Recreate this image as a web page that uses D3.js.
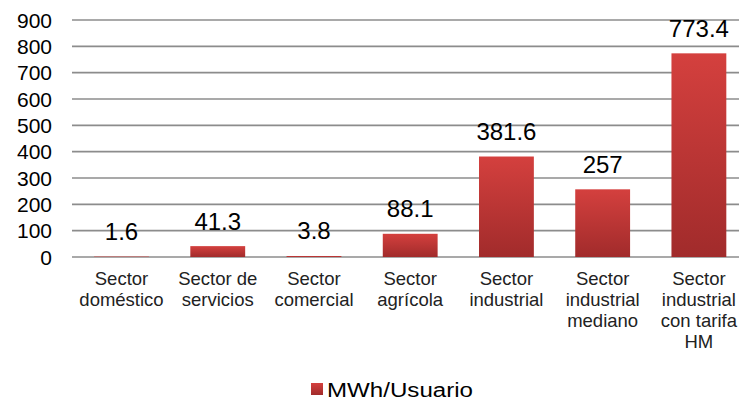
<!DOCTYPE html>
<html>
	<head>
		<meta charset="utf-8">
		<style>
			body, html { margin: 0; padding: 0; background: #fff; }
			svg { display: block; font-family: "Liberation Sans", Arial, sans-serif; }
		</style>
	</head>
	<body>
		<svg id="svg" width="739" height="404"></svg>
		<script src="https://d3js.org/d3.v7.min.js"></script>
		<script>
			// Data
			const categories = [
				['Sector', 'doméstico'],
				['Sector de', 'servicios'],
				['Sector', 'comercial'],
				['Sector', 'agrícola'],
				['Sector', 'industrial'],
				['Sector', 'industrial', 'mediano'],
				['Sector', 'industrial', 'con tarifa', 'HM']
			]
			const values = [1.6, 41.3, 3.8, 88.1, 381.6, 257, 773.4]
			const labels = ['1.6', '41.3', '3.8', '88.1', '381.6', '257', '773.4']
			const yTicks = [0, 100, 200, 300, 400, 500, 600, 700, 800, 900]
			const seriesName = 'MWh/Usuario'

			const svg = d3.select('#svg')

			// Plot area (right side runs off the picture, as in the original)
			const plotLeft = 73.4, plotRight = 747, plotTop = 20, plotBottom = 257

			const x = d3.scaleBand()
				.domain(d3.range(values.length))
				.range([plotLeft, plotRight])
				.paddingInner(0.43)
				.paddingOuter(0.215)

			const y = d3.scaleLinear()
				.domain([0, 900])
				.range([plotBottom, plotTop])

			// Bar gradient
			const grad = svg.append('defs').append('linearGradient')
				.attr('id', 'barGrad')
				.attr('x1', 0).attr('y1', 0).attr('x2', 0).attr('y2', 1)
			grad.append('stop').attr('offset', '0%').attr('stop-color', '#d4403e')
			grad.append('stop').attr('offset', '100%').attr('stop-color', '#a12b2b')

			// Gridlines
			svg.append('g')
				.selectAll('line')
				.data(yTicks)
				.join('line')
				.attr('x1', 72)
				.attr('x2', 739)
				.attr('y1', d => y(d))
				.attr('y2', d => y(d))
				.attr('stroke', '#8c8c8c')
				.attr('stroke-width', 1.6)

			// Y tick labels
			svg.append('g')
				.selectAll('text')
				.data(yTicks)
				.join('text')
				.attr('x', 52)
				.attr('y', d => y(d))
				.attr('dy', '0.36em')
				.attr('text-anchor', 'end')
				.attr('font-size', 21)
				.attr('fill', '#000')
				.text(d => d)

			// Bars
			svg.append('g')
				.selectAll('rect')
				.data(values)
				.join('rect')
				.attr('x', (d, i) => x(i))
				.attr('y', d => y(d))
				.attr('width', x.bandwidth())
				.attr('height', d => y(0) - y(d))
				.attr('fill', 'url(#barGrad)')

			// Value labels
			svg.append('g')
				.selectAll('text')
				.data(values)
				.join('text')
				.attr('x', (d, i) => x(i) + x.bandwidth() / 2)
				.attr('y', d => y(d) - 16.5)
				.attr('text-anchor', 'middle')
				.attr('font-size', 24)
				.attr('fill', '#000')
				.text((d, i) => labels[i])

			// Category labels
			const cat = svg.append('g')
				.selectAll('text')
				.data(categories)
				.join('text')
				.attr('x', (d, i) => x(i) + x.bandwidth() / 2)
				.attr('y', 285)
				.attr('text-anchor', 'middle')
				.attr('font-size', 18.5)
				.attr('fill', '#222')
			cat.selectAll('tspan')
				.data(d => d)
				.join('tspan')
				.attr('x', function () { return d3.select(this.parentNode).attr('x') })
				.attr('dy', (d, j) => j === 0 ? 0 : 21)
				.text(d => d)

			// Legend
			const legend = svg.append('g')
			legend.append('rect')
				.attr('x', 311).attr('y', 383)
				.attr('width', 12).attr('height', 12)
				.attr('fill', 'url(#barGrad)')
			legend.append('text')
				.attr('x', 327).attr('y', 397)
				.attr('font-size', 20)
				.attr('textLength', 146)
				.attr('lengthAdjust', 'spacingAndGlyphs')
				.attr('fill', '#000')
				.text(seriesName)
		</script>
	</body>
</html>
